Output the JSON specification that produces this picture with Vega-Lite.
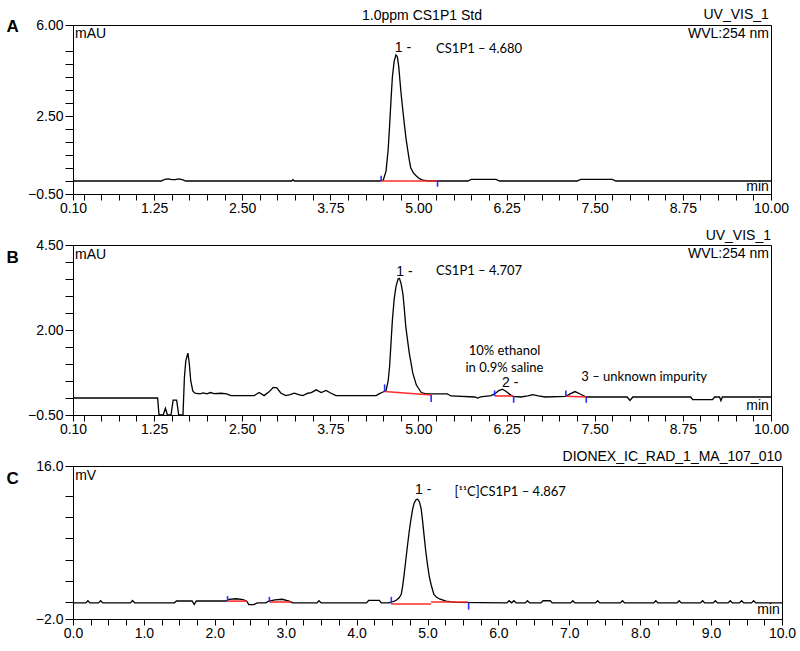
{
  "$schema": "https://vega.github.io/schema/vega-lite/v6.json",
  "padding": {"left": 5, "top": 7, "right": 5, "bottom": 2},
  "spacing": 12,
  "background": "white",
  "config": {
    "view": {"stroke": "black", "strokeWidth": 1},
    "axis": {"domainColor": "black", "domainWidth": 1, "tickColor": "black", "tickWidth": 1, "labelColor": "black", "labelFont": "Liberation Sans", "labelFontSize": 14, "grid": false, "labelOverlap": false, "labelFlush": false},
    "title": {"font": "Liberation Sans", "fontSize": 14, "fontWeight": "normal", "color": "black", "anchor": "end", "frame": "group", "offset": -5, "baseline": "alphabetic"}
  },
  "datasets": {
    "traceA": [
      {"t": 0.1, "v": 0}, {"t": 1.35, "v": 0}, {"t": 1.40, "v": 0.06}, {"t": 1.45, "v": 0.08}, {"t": 1.50, "v": 0.05},
      {"t": 1.55, "v": 0.05}, {"t": 1.60, "v": 0.08}, {"t": 1.65, "v": 0.05}, {"t": 1.70, "v": 0}, {"t": 3.20, "v": 0},
      {"t": 3.22, "v": 0.05}, {"t": 3.24, "v": 0}, {"t": 4.45, "v": 0}, {"t": 4.50, "v": 0.03}, {"t": 4.54, "v": 0.38},
      {"t": 4.57, "v": 1.2}, {"t": 4.59, "v": 2.1}, {"t": 4.61, "v": 3.1}, {"t": 4.63, "v": 4.0}, {"t": 4.655, "v": 4.6},
      {"t": 4.68, "v": 4.85}, {"t": 4.70, "v": 4.78}, {"t": 4.72, "v": 4.4}, {"t": 4.75, "v": 3.46}, {"t": 4.775, "v": 2.8},
      {"t": 4.80, "v": 2.18}, {"t": 4.825, "v": 1.6}, {"t": 4.85, "v": 1.15}, {"t": 4.87, "v": 0.8}, {"t": 4.89, "v": 0.51},
      {"t": 4.93, "v": 0.3}, {"t": 4.97, "v": 0.19}, {"t": 5.01, "v": 0.1}, {"t": 5.06, "v": 0.03}, {"t": 5.15, "v": 0},
      {"t": 5.70, "v": 0}, {"t": 5.75, "v": 0.06}, {"t": 6.10, "v": 0.06}, {"t": 6.15, "v": 0}, {"t": 7.25, "v": 0},
      {"t": 7.30, "v": 0.06}, {"t": 7.75, "v": 0.06}, {"t": 7.80, "v": 0}, {"t": 10.0, "v": 0}
    ],
    "traceB": [
      {"t": 0.1, "v": 0.0}, {"t": 1.30, "v": 0.0}, {"t": 1.32, "v": -0.5}, {"t": 1.38, "v": -0.5}, {"t": 1.41, "v": -0.3},
      {"t": 1.44, "v": -0.5}, {"t": 1.49, "v": -0.5}, {"t": 1.52, "v": -0.06}, {"t": 1.57, "v": -0.06}, {"t": 1.60, "v": -0.5},
      {"t": 1.66, "v": -0.5}, {"t": 1.68, "v": 0.6}, {"t": 1.70, "v": 1.1}, {"t": 1.73, "v": 1.32}, {"t": 1.75, "v": 1.0},
      {"t": 1.77, "v": 0.5}, {"t": 1.80, "v": 0.2}, {"t": 1.83, "v": 0.14}, {"t": 1.90, "v": 0.12}, {"t": 1.95, "v": 0.15},
      {"t": 2.00, "v": 0.12}, {"t": 2.05, "v": 0.16}, {"t": 2.10, "v": 0.13}, {"t": 2.20, "v": 0.14}, {"t": 2.28, "v": 0.12},
      {"t": 2.34, "v": 0.07}, {"t": 2.67, "v": 0.07}, {"t": 2.74, "v": 0.16}, {"t": 2.81, "v": 0.07}, {"t": 2.88, "v": 0.18},
      {"t": 2.94, "v": 0.31}, {"t": 2.99, "v": 0.3}, {"t": 3.05, "v": 0.14}, {"t": 3.12, "v": 0.07}, {"t": 3.18, "v": 0.1},
      {"t": 3.24, "v": 0.14}, {"t": 3.30, "v": 0.1}, {"t": 3.36, "v": 0.07}, {"t": 3.43, "v": 0.14}, {"t": 3.48, "v": 0.16},
      {"t": 3.55, "v": 0.24}, {"t": 3.62, "v": 0.16}, {"t": 3.69, "v": 0.22}, {"t": 3.76, "v": 0.14}, {"t": 3.83, "v": 0.07},
      {"t": 4.40, "v": 0.07}, {"t": 4.44, "v": 0.12}, {"t": 4.49, "v": 0.17}, {"t": 4.54, "v": 0.22}, {"t": 4.57, "v": 0.5},
      {"t": 4.59, "v": 0.92}, {"t": 4.61, "v": 1.6}, {"t": 4.63, "v": 2.29}, {"t": 4.655, "v": 2.9}, {"t": 4.68, "v": 3.27},
      {"t": 4.71, "v": 3.5}, {"t": 4.73, "v": 3.52}, {"t": 4.755, "v": 3.35}, {"t": 4.78, "v": 3.05}, {"t": 4.80, "v": 2.6},
      {"t": 4.82, "v": 2.1}, {"t": 4.845, "v": 1.7}, {"t": 4.87, "v": 1.31}, {"t": 4.92, "v": 0.73}, {"t": 4.97, "v": 0.38},
      {"t": 5.04, "v": 0.16}, {"t": 5.11, "v": 0.12}, {"t": 5.41, "v": 0.12}, {"t": 5.46, "v": 0.06}, {"t": 5.80, "v": 0.03},
      {"t": 5.84, "v": 0.0}, {"t": 5.88, "v": 0.03}, {"t": 6.03, "v": 0.07}, {"t": 6.08, "v": 0.12}, {"t": 6.14, "v": 0.22},
      {"t": 6.19, "v": 0.26}, {"t": 6.24, "v": 0.2}, {"t": 6.30, "v": 0.1}, {"t": 6.34, "v": 0.05}, {"t": 6.45, "v": 0.03},
      {"t": 6.55, "v": 0.06}, {"t": 6.62, "v": 0.1}, {"t": 6.70, "v": 0.06}, {"t": 6.80, "v": 0.03}, {"t": 7.09, "v": 0.05},
      {"t": 7.15, "v": 0.12}, {"t": 7.22, "v": 0.19}, {"t": 7.30, "v": 0.11}, {"t": 7.38, "v": 0.03}, {"t": 7.96, "v": 0.03},
      {"t": 8.00, "v": -0.07}, {"t": 8.04, "v": 0.03}, {"t": 8.86, "v": 0.03}, {"t": 8.89, "v": -0.05}, {"t": 9.17, "v": -0.05},
      {"t": 9.20, "v": 0.03}, {"t": 9.27, "v": 0.03}, {"t": 9.29, "v": -0.08}, {"t": 9.31, "v": 0.03}, {"t": 10.0, "v": 0.03}
    ],
    "traceC": [
      {"t": 0.0, "v": -0.1}, {"t": 0.18, "v": -0.1}, {"t": 0.21, "v": 0.15}, {"t": 0.24, "v": -0.1}, {"t": 0.36, "v": -0.1},
      {"t": 0.39, "v": 0.15}, {"t": 0.42, "v": -0.1}, {"t": 0.81, "v": -0.1}, {"t": 0.84, "v": 0.18}, {"t": 0.87, "v": -0.1},
      {"t": 1.43, "v": -0.1}, {"t": 1.46, "v": 0.12}, {"t": 1.68, "v": 0.12}, {"t": 1.71, "v": -0.3}, {"t": 1.74, "v": 0.12},
      {"t": 2.16, "v": 0.12}, {"t": 2.20, "v": 0.3}, {"t": 2.30, "v": 0.38}, {"t": 2.40, "v": 0.28}, {"t": 2.45, "v": 0.1},
      {"t": 2.48, "v": -0.3}, {"t": 2.55, "v": -0.3}, {"t": 2.60, "v": -0.1}, {"t": 2.72, "v": -0.1}, {"t": 2.76, "v": 0.1},
      {"t": 2.85, "v": 0.25}, {"t": 2.95, "v": 0.32}, {"t": 3.05, "v": 0.1}, {"t": 3.10, "v": -0.1}, {"t": 3.44, "v": -0.1},
      {"t": 3.47, "v": 0.15}, {"t": 3.50, "v": -0.1}, {"t": 4.14, "v": -0.1}, {"t": 4.17, "v": 0.18}, {"t": 4.32, "v": 0.18},
      {"t": 4.35, "v": -0.1}, {"t": 4.45, "v": -0.1}, {"t": 4.50, "v": 0.0}, {"t": 4.55, "v": 0.15}, {"t": 4.60, "v": 0.5},
      {"t": 4.63, "v": 0.9}, {"t": 4.65, "v": 1.9}, {"t": 4.67, "v": 3.2}, {"t": 4.695, "v": 5.0}, {"t": 4.72, "v": 6.8},
      {"t": 4.745, "v": 8.5}, {"t": 4.77, "v": 9.9}, {"t": 4.79, "v": 10.9}, {"t": 4.81, "v": 11.6}, {"t": 4.835, "v": 12.0},
      {"t": 4.86, "v": 12.1}, {"t": 4.885, "v": 11.8}, {"t": 4.91, "v": 11.0}, {"t": 4.93, "v": 9.6}, {"t": 4.95, "v": 7.95},
      {"t": 4.975, "v": 6.0}, {"t": 5.00, "v": 4.4}, {"t": 5.025, "v": 3.0}, {"t": 5.05, "v": 2.06}, {"t": 5.09, "v": 0.9},
      {"t": 5.13, "v": 0.55}, {"t": 5.17, "v": 0.36}, {"t": 5.26, "v": 0.09}, {"t": 5.40, "v": -0.05}, {"t": 6.12, "v": -0.1},
      {"t": 6.15, "v": 0.15}, {"t": 6.185, "v": -0.1}, {"t": 6.22, "v": 0.15}, {"t": 6.25, "v": -0.1}, {"t": 6.38, "v": -0.1},
      {"t": 6.41, "v": 0.15}, {"t": 6.44, "v": -0.1}, {"t": 6.60, "v": -0.1}, {"t": 6.63, "v": 0.15}, {"t": 6.73, "v": 0.15},
      {"t": 6.76, "v": -0.1}, {"t": 7.02, "v": -0.1}, {"t": 7.05, "v": 0.15}, {"t": 7.08, "v": -0.1}, {"t": 7.37, "v": -0.1},
      {"t": 7.40, "v": 0.15}, {"t": 7.43, "v": -0.1}, {"t": 7.72, "v": -0.1}, {"t": 7.75, "v": 0.15}, {"t": 7.78, "v": -0.1},
      {"t": 8.19, "v": -0.1}, {"t": 8.22, "v": 0.15}, {"t": 8.25, "v": -0.1}, {"t": 8.52, "v": -0.1}, {"t": 8.55, "v": 0.15},
      {"t": 8.58, "v": -0.1}, {"t": 8.85, "v": -0.1}, {"t": 8.88, "v": 0.15}, {"t": 8.91, "v": -0.1}, {"t": 9.03, "v": -0.1},
      {"t": 9.06, "v": 0.15}, {"t": 9.09, "v": -0.1}, {"t": 9.24, "v": -0.1}, {"t": 9.27, "v": 0.15}, {"t": 9.30, "v": -0.1},
      {"t": 9.40, "v": -0.1}, {"t": 9.43, "v": 0.15}, {"t": 9.46, "v": -0.1}, {"t": 9.57, "v": -0.1}, {"t": 9.60, "v": 0.15},
      {"t": 9.63, "v": -0.1}, {"t": 10.0, "v": -0.1}
    ],
    "marksA": [
      {"kind": "baseline", "t": 4.47, "t2": 5.27, "v": 0, "v2": 0},
      {"kind": "marker", "t": 4.47, "t2": 4.47, "v": 0, "v2": 0.2},
      {"kind": "marker", "t": 5.27, "t2": 5.27, "v": 0, "v2": -0.22}
    ],
    "marksB": [
      {"kind": "baseline", "t": 4.52, "t2": 5.18, "v": 0.19, "v2": 0.09},
      {"kind": "marker", "t": 4.52, "t2": 4.52, "v": 0.19, "v2": 0.4},
      {"kind": "marker", "t": 5.18, "t2": 5.18, "v": 0.09, "v2": -0.12},
      {"kind": "baseline", "t": 6.08, "t2": 6.35, "v": 0.06, "v2": 0.06},
      {"kind": "marker", "t": 6.08, "t2": 6.08, "v": 0.06, "v2": 0.22},
      {"kind": "marker", "t": 6.35, "t2": 6.35, "v": 0.05, "v2": -0.14},
      {"kind": "baseline", "t": 7.09, "t2": 7.38, "v": 0.05, "v2": 0.03},
      {"kind": "marker", "t": 7.09, "t2": 7.09, "v": 0.05, "v2": 0.22},
      {"kind": "marker", "t": 7.38, "t2": 7.38, "v": 0.02, "v2": -0.14}
    ],
    "marksC": [
      {"kind": "baseline", "t": 2.18, "t2": 2.45, "v": 0.1, "v2": 0.1},
      {"kind": "marker", "t": 2.18, "t2": 2.18, "v": 0.1, "v2": 0.7},
      {"kind": "baseline", "t": 2.77, "t2": 3.07, "v": 0.0, "v2": 0.0},
      {"kind": "marker", "t": 2.77, "t2": 2.77, "v": 0.0, "v2": 0.6},
      {"kind": "baseline", "t": 4.49, "t2": 5.05, "v": -0.23, "v2": -0.23},
      {"kind": "baseline", "t": 5.05, "t2": 5.57, "v": 0.0, "v2": 0.0},
      {"kind": "marker", "t": 4.49, "t2": 4.49, "v": -0.2, "v2": 0.6},
      {"kind": "marker", "t": 5.58, "t2": 5.58, "v": -0.1, "v2": -0.9}
    ],
    "labelsA": [
      {"role": "unit", "label": "mAU", "t": 0.13, "v": 5.65},
      {"role": "info", "label": "WVL:254 nm", "t": 9.97, "v": 5.65},
      {"role": "info", "label": "min", "t": 9.97, "v": -0.23},
      {"role": "info", "label": "UV_VIS_1", "t": 9.97, "v": 6.38},
      {"role": "peak", "label": "1 -", "t": 4.78, "v": 5.13},
      {"role": "peak", "label": "1.0ppm CS1P1 Std", "t": 5.05, "v": 6.36},
      {"role": "note", "label": "CS1P1 – 4.680", "t": 5.25, "v": 5.08}
    ],
    "labelsB": [
      {"role": "unit", "label": "mAU", "t": 0.13, "v": 4.21},
      {"role": "info", "label": "WVL:254 nm", "t": 9.97, "v": 4.23},
      {"role": "info", "label": "min", "t": 9.97, "v": -0.23},
      {"role": "peak", "label": "1 -", "t": 4.8, "v": 3.71},
      {"role": "peak", "label": "2 -", "t": 6.3, "v": 0.43},
      {"role": "note", "label": "CS1P1 – 4.707", "t": 5.25, "v": 3.74},
      {"role": "note", "label": "3 – unknown impurity", "t": 7.31, "v": 0.63},
      {"role": "solvent", "label": "10% ethanol", "t": 6.22, "v": 1.38},
      {"role": "solvent", "label": "in 0.9% saline", "t": 6.22, "v": 0.88}
    ],
    "labelsC": [
      {"role": "unit", "label": "mV", "t": 0.03, "v": 14.8},
      {"role": "info", "label": "min", "t": 9.97, "v": -0.97},
      {"role": "peak", "label": "1 -", "t": 4.94, "v": 13.14},
      {"role": "note", "label": "[¹¹C]CS1P1 – 4.867", "t": 5.38, "v": 12.94}
    ]
  },
  "vconcat": [
    {
      "width": 698, "height": 169,
      "encoding": {
        "x": {"field": "t", "type": "quantitative", "scale": {"domain": [0.1, 10], "nice": false, "zero": false},
          "axis": {"title": null, "tickSize": 6, "labelPadding": 1,
            "values": [0.1, 0.25, 0.5, 0.75, 1, 1.25, 1.5, 1.75, 2, 2.25, 2.5, 2.75, 3, 3.25, 3.5, 3.75, 4, 4.25, 4.5, 4.75, 5, 5.25, 5.5, 5.75, 6, 6.25, 6.5, 6.75, 7, 7.25, 7.5, 7.75, 8, 8.25, 8.5, 8.75, 9, 9.25, 9.5, 9.75, 10],
            "labelExpr": "indexof([0.1, 1.25, 2.5, 3.75, 5, 6.25, 7.5, 8.75, 10], datum.value) >= 0 ? format(datum.value, '.2f') : ''"}},
        "y": {"field": "v", "type": "quantitative", "scale": {"domain": [-0.5, 6], "nice": false, "zero": false},
          "axis": {"tickSize": 8, "labelPadding": 2,
            "values": [-0.5, 0, 0.5, 1, 1.5, 2, 2.5, 3, 3.5, 4, 4.5, 5, 6],
            "labelExpr": "indexof([-0.5, 2.5, 6], datum.value) >= 0 ? format(datum.value, '.2f') : ''",
            "title": "A", "titleAngle": 0, "titleFont": "Liberation Sans", "titleFontSize": 17, "titleFontWeight": "bold", "titleColor": "black",
            "titleAlign": "left", "titleBaseline": "middle", "titleX": -67, "titleY": 1}}
      },
      "layer": [
        {"data": {"name": "traceA"}, "mark": {"type": "line", "color": "black", "strokeWidth": 1.3}},
        {"data": {"name": "marksA"}, "mark": {"type": "rule", "strokeWidth": 1.6},
          "encoding": {"x2": {"field": "t2"}, "y2": {"field": "v2"},
            "color": {"field": "kind", "type": "nominal", "scale": {"domain": ["baseline", "marker"], "range": ["#ff2a2a", "#2233ff"]}, "legend": null}}},
        {"data": {"name": "labelsA"}, "transform": [{"filter": "datum.role == 'unit'"}],
          "mark": {"type": "text", "align": "left", "baseline": "middle", "font": "Liberation Sans", "fontSize": 14, "color": "black"},
          "encoding": {"text": {"field": "label"}}},
        {"data": {"name": "labelsA"}, "transform": [{"filter": "datum.role == 'info'"}],
          "mark": {"type": "text", "align": "right", "baseline": "middle", "font": "Liberation Sans", "fontSize": 14, "color": "black"},
          "encoding": {"text": {"field": "label"}}},
        {"data": {"name": "labelsA"}, "transform": [{"filter": "datum.role == 'peak'"}],
          "mark": {"type": "text", "align": "center", "baseline": "middle", "font": "Liberation Sans", "fontSize": 14, "color": "black"},
          "encoding": {"text": {"field": "label"}}},
        {"data": {"name": "labelsA"}, "transform": [{"filter": "datum.role == 'note'"}],
          "mark": {"type": "text", "align": "left", "baseline": "middle", "font": "Lato", "fontSize": 13, "color": "black"},
          "encoding": {"text": {"field": "label"}}}
      ]
    },
    {
      "width": 698, "height": 170,
      "title": {"text": "UV_VIS_1"},
      "encoding": {
        "x": {"field": "t", "type": "quantitative", "scale": {"domain": [0.1, 10], "nice": false, "zero": false},
          "axis": {"title": null, "tickSize": 6, "labelPadding": 1,
            "values": [0.1, 0.25, 0.5, 0.75, 1, 1.25, 1.5, 1.75, 2, 2.25, 2.5, 2.75, 3, 3.25, 3.5, 3.75, 4, 4.25, 4.5, 4.75, 5, 5.25, 5.5, 5.75, 6, 6.25, 6.5, 6.75, 7, 7.25, 7.5, 7.75, 8, 8.25, 8.5, 8.75, 9, 9.25, 9.5, 9.75, 10],
            "labelExpr": "indexof([0.1, 1.25, 2.5, 3.75, 5, 6.25, 7.5, 8.75, 10], datum.value) >= 0 ? format(datum.value, '.2f') : ''"}},
        "y": {"field": "v", "type": "quantitative", "scale": {"domain": [-0.5, 4.5], "nice": false, "zero": false},
          "axis": {"tickSize": 8, "labelPadding": 2,
            "values": [-0.5, 0, 0.5, 1, 1.5, 2, 2.5, 3, 3.5, 4, 4.5],
            "labelExpr": "indexof([-0.5, 2, 4.5], datum.value) >= 0 ? format(datum.value, '.2f') : ''",
            "title": "B", "titleAngle": 0, "titleFont": "Liberation Sans", "titleFontSize": 17, "titleFontWeight": "bold", "titleColor": "black",
            "titleAlign": "left", "titleBaseline": "middle", "titleX": -67, "titleY": 12}}
      },
      "layer": [
        {"data": {"name": "traceB"}, "mark": {"type": "line", "color": "black", "strokeWidth": 1.3}},
        {"data": {"name": "marksB"}, "mark": {"type": "rule", "strokeWidth": 1.6},
          "encoding": {"x2": {"field": "t2"}, "y2": {"field": "v2"},
            "color": {"field": "kind", "type": "nominal", "scale": {"domain": ["baseline", "marker"], "range": ["#ff2a2a", "#2233ff"]}, "legend": null}}},
        {"data": {"name": "labelsB"}, "transform": [{"filter": "datum.role == 'unit'"}],
          "mark": {"type": "text", "align": "left", "baseline": "middle", "font": "Liberation Sans", "fontSize": 14, "color": "black"},
          "encoding": {"text": {"field": "label"}}},
        {"data": {"name": "labelsB"}, "transform": [{"filter": "datum.role == 'info'"}],
          "mark": {"type": "text", "align": "right", "baseline": "middle", "font": "Liberation Sans", "fontSize": 14, "color": "black"},
          "encoding": {"text": {"field": "label"}}},
        {"data": {"name": "labelsB"}, "transform": [{"filter": "datum.role == 'peak'"}],
          "mark": {"type": "text", "align": "center", "baseline": "middle", "font": "Liberation Sans", "fontSize": 14, "color": "black"},
          "encoding": {"text": {"field": "label"}}},
        {"data": {"name": "labelsB"}, "transform": [{"filter": "datum.role == 'note'"}],
          "mark": {"type": "text", "align": "left", "baseline": "middle", "font": "Lato", "fontSize": 13, "color": "black"},
          "encoding": {"text": {"field": "label"}}},
        {"data": {"name": "labelsB"}, "transform": [{"filter": "datum.role == 'solvent'"}],
          "mark": {"type": "text", "align": "center", "baseline": "middle", "font": "Lato", "fontSize": 13, "color": "black"},
          "encoding": {"text": {"field": "label"}}}
      ]
    },
    {
      "width": 709, "height": 153,
      "title": {"text": "DIONEX_IC_RAD_1_MA_107_010"},
      "encoding": {
        "x": {"field": "t", "type": "quantitative", "scale": {"domain": [0, 10], "nice": false, "zero": false},
          "axis": {"title": null, "tickSize": 6, "labelPadding": 1,
            "values": [0, 0.25, 0.5, 0.75, 1, 1.25, 1.5, 1.75, 2, 2.25, 2.5, 2.75, 3, 3.25, 3.5, 3.75, 4, 4.25, 4.5, 4.75, 5, 5.25, 5.5, 5.75, 6, 6.25, 6.5, 6.75, 7, 7.25, 7.5, 7.75, 8, 8.25, 8.5, 8.75, 9, 9.25, 9.5, 9.75, 10],
            "labelExpr": "indexof([0, 1, 2, 3, 4, 5, 6, 7, 8, 9, 10], datum.value) >= 0 ? format(datum.value, '.1f') : ''"}},
        "y": {"field": "v", "type": "quantitative", "scale": {"domain": [-2, 16], "nice": false, "zero": false},
          "axis": {"tickSize": 8, "labelPadding": 2,
            "values": [-2, 0, 2.5, 5, 7.5, 10, 12.5, 16],
            "labelExpr": "indexof([-2, 16], datum.value) >= 0 ? format(datum.value, '.1f') : ''",
            "title": "C", "titleAngle": 0, "titleFont": "Liberation Sans", "titleFontSize": 17, "titleFontWeight": "bold", "titleColor": "black",
            "titleAlign": "left", "titleBaseline": "middle", "titleX": -67, "titleY": 12}}
      },
      "layer": [
        {"data": {"name": "traceC"}, "mark": {"type": "line", "color": "black", "strokeWidth": 1.3}},
        {"data": {"name": "marksC"}, "mark": {"type": "rule", "strokeWidth": 1.6},
          "encoding": {"x2": {"field": "t2"}, "y2": {"field": "v2"},
            "color": {"field": "kind", "type": "nominal", "scale": {"domain": ["baseline", "marker"], "range": ["#ff2a2a", "#2233ff"]}, "legend": null}}},
        {"data": {"name": "labelsC"}, "transform": [{"filter": "datum.role == 'unit'"}],
          "mark": {"type": "text", "align": "left", "baseline": "middle", "font": "Liberation Sans", "fontSize": 14, "color": "black"},
          "encoding": {"text": {"field": "label"}}},
        {"data": {"name": "labelsC"}, "transform": [{"filter": "datum.role == 'info'"}],
          "mark": {"type": "text", "align": "right", "baseline": "middle", "font": "Liberation Sans", "fontSize": 14, "color": "black"},
          "encoding": {"text": {"field": "label"}}},
        {"data": {"name": "labelsC"}, "transform": [{"filter": "datum.role == 'peak'"}],
          "mark": {"type": "text", "align": "center", "baseline": "middle", "font": "Liberation Sans", "fontSize": 14, "color": "black"},
          "encoding": {"text": {"field": "label"}}},
        {"data": {"name": "labelsC"}, "transform": [{"filter": "datum.role == 'note'"}],
          "mark": {"type": "text", "align": "left", "baseline": "middle", "font": "Lato", "fontSize": 13, "color": "black"},
          "encoding": {"text": {"field": "label"}}}
      ]
    }
  ]
}
